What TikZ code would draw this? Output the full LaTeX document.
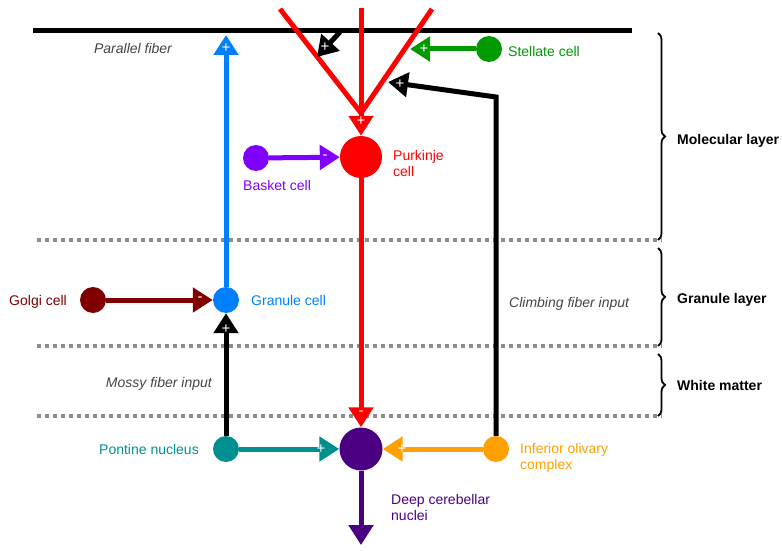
\documentclass[tikz,border=0pt]{standalone}
\usepackage{fontspec}
\setmainfont{Liberation Sans}
\usetikzlibrary{arrows.meta, decorations.pathreplacing}

\definecolor{purkcol}{HTML}{FF0000}
\definecolor{dcncol}{HTML}{4B0082}
\definecolor{granulecol}{HTML}{0080FF}
\definecolor{golgicol}{HTML}{800000}
\definecolor{basketcol}{HTML}{7F00FF}
\definecolor{stellatecol}{HTML}{009900}
\definecolor{pontinecol}{HTML}{008F8F}
\definecolor{olivecol}{HTML}{FFA000}
\definecolor{notecol}{HTML}{444444}

\begin{document}
\begin{tikzpicture}[x=1pt,y=-1pt,
    cell/.style={circle, fill=#1, draw=none, inner sep=0pt, minimum size=26pt},
    fiber/.style={line width=5pt, line join=miter, -{Triangle[length=20pt,width=24pt]}},
    lbl/.style={text=#1, inner sep=0pt, font=\fontsize{14}{16}\selectfont},
    note/.style={text=notecol, inner sep=0pt, font=\fontsize{14}{16}\selectfont\itshape},
    layer/.style={inner sep=0pt, font=\fontsize{14}{16}\selectfont\bfseries},
    sign/.style={text=white, inner sep=0pt, font=\fontsize{15}{15}\selectfont},
    dots/.style={draw=black!45, line width=4pt, dash pattern=on 4pt off 4pt},
    bracket/.style={draw=black, line width=1.8pt, decorate, decoration={brace, amplitude=7pt}}]
    \useasboundingbox (0,0) rectangle (782,551);

    % layer borders
    \foreach \y in {240,346,416}{
        \draw[dots] (37,\y) -- (662,\y);
    }
    \draw[bracket] (658,33) -- (658,240);
    \draw[bracket] (658,248) -- (658,346);
    \draw[bracket] (658,354) -- (658,416);
    \node[layer, anchor=base west] (mol) at (677,144) {Molecular layer};
    \node[layer, anchor=base west] (gran) at (677,303) {Granule layer};
    \node[layer, anchor=base west] (white) at (677,390) {White matter};

    % parallel fiber and purkinje dendrites
    \coordinate (pf west) at (33,31);
    \coordinate (pf east) at (632,31);
    \draw[line width=5pt] (pf west) -- (pf east);
    \coordinate (dleft) at (280,9);
    \coordinate (dright) at (432,9);
    \coordinate (dtop) at (361,8);
    \coordinate (djoin) at (361,113);
    \draw[purkcol, line width=5pt, line join=miter] (dleft) -- (djoin) -- (dright);

    % cells
    \node[cell=purkcol, minimum size=42pt] (purkinje) at (361,157) {};
    \node[cell=dcncol, minimum size=43pt] (dcn) at (361,449) {};
    \node[cell=granulecol] (granule) at (226,300) {};
    \node[cell=golgicol] (golgi) at (93,300) {};
    \node[cell=basketcol] (basket) at (256,158) {};
    \node[cell=stellatecol] (stellate) at (489,49) {};
    \node[cell=pontinecol] (pontine) at (226,449) {};
    \node[cell=olivecol] (olive) at (496,449) {};

    % connections
    \coordinate (pf hit) at (226,35);
    \coordinate (pf start) at (340,32);
    \coordinate (pf end) at (317,57);
    \coordinate (st end) at (410,49);
    \coordinate (cf corner) at (496,97);
    \coordinate (cf end) at (388,82);
    \coordinate (out) at (361,545);
    \draw[fiber, granulecol] (granule) -- (pf hit);
    \draw[fiber, golgicol] (golgi) -- (granule);
    \draw[fiber] (pontine) -- (granule);
    \draw[fiber, basketcol] (basket) -- (purkinje);
    \draw[fiber, purkcol] (dtop) -- (purkinje);
    \draw[fiber] (pf start) -- (pf end);
    \draw[fiber, stellatecol] (stellate) -- (st end);
    \draw[fiber] (olive) -- (cf corner) -- (cf end);
    \draw[fiber, purkcol] (purkinje) -- (dcn);
    \draw[fiber, pontinecol] (pontine) -- (dcn);
    \draw[fiber, olivecol] (olive) -- (dcn);
    \draw[fiber, dcncol] (dcn) -- (out);

    % signs
    \node[sign] (s pf) at (226,48) {+};
    \node[sign] (s golgi) at (200,299) {-};
    \node[sign] (s mossy) at (226,329) {+};
    \node[sign] (s basket) at (325,157) {-};
    \node[sign] (s top) at (361,121) {+};
    \node[sign] (s par) at (325,47) {+};
    \node[sign] (s stel) at (424,49) {+};
    \node[sign] (s cf) at (400,84) {+};
    \node[sign] (s purk) at (361,413) {-};
    \node[sign] (s pont) at (321,449) {+};
    \node[sign] (s olive) at (402,449) {+};

    % labels
    \node[note, anchor=base] (pf lbl) at (133,54) {Parallel fiber};
    \node[note, anchor=base east] (mf lbl) at (212,387) {Mossy fiber input};
    \node[note, anchor=base west] (cf lbl) at (509,307) {Climbing fiber input};
    \node[lbl=stellatecol, anchor=base west] (stellate lbl) at (508,57) {Stellate cell};
    \node[lbl=purkcol, anchor=north west, align=left] (purkinje lbl) at (393,150) {Purkinje\\cell};
    \node[lbl=basketcol, anchor=base west] (basket lbl) at (243,190) {Basket cell};
    \node[lbl=golgicol, anchor=base east] (golgi lbl) at (67,305) {Golgi cell};
    \node[lbl=granulecol, anchor=base west] (granule lbl) at (251,305) {Granule cell};
    \node[lbl=pontinecol, anchor=base east] (pontine lbl) at (199,454) {Pontine nucleus};
    \node[lbl=olivecol, anchor=north west, align=left] (olive lbl) at (520,443) {Inferior olivary\\complex};
    \node[lbl=dcncol, anchor=north west, align=left] (dcn lbl) at (391,494) {Deep cerebellar\\nuclei};
\end{tikzpicture}
\end{document}
